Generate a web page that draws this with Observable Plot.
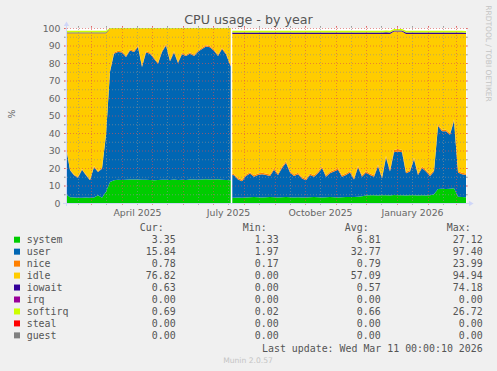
<!DOCTYPE html>
<html><head><meta charset="utf-8">
<script src="https://cdn.jsdelivr.net/npm/d3@7"></script>
<script src="https://cdn.jsdelivr.net/npm/@observablehq/plot@0.6"></script>
<style>
html,body{margin:0;padding:0;background:#F0F0F0;}
#wrap{position:relative;width:497px;height:371px;background:#F0F0F0;overflow:hidden;}
#wrap svg{position:absolute;left:0;top:0;}
</style></head><body><div id="wrap"></div>
<script>
// ---- data ----
const seriesNames = ["system","user","nice","idle","iowait","irq","softirq","steal","guest"];
const seriesColors = ["#00CC00","#0066B3","#FF8000","#FFCC00","#330099","#990099","#CCFF00","#FF0000","#808080"];
const stackedNames = ["system","user","nice","idle","iowait","softirq"];
const curValues = [3.35, 15.84, 0.78, 76.82, 0.63, 0.00, 0.69, 0.00, 0.00];
const minValues = [1.33, 1.97, 0.17, 0.00, 0.00, 0.00, 0.02, 0.00, 0.00];
const avgValues = [6.81, 32.77, 0.79, 57.09, 0.57, 0.00, 0.66, 0.00, 0.00];
const maxValues = [27.12, 97.40, 23.99, 94.94, 74.18, 0.00, 26.72, 0.00, 0.00];

const startDate = new Date(Date.UTC(2025, 1, 4));
const endDate = new Date(Date.UTC(2026, 2, 11));
// day offsets from startDate; data gap between 164.7 and 166.3
const dayOffsets = [...d3.range(0, 161, 4), 164.7, 166.3, ...d3.range(168, 401, 4)];
const gapDay = 165.5;

const system = [5.0, 3.3, 3.2, 3.0, 3.0, 3.1, 3.0, 3.2, 4.5, 3.0,
 6.5, 12.0, 13.0, 13.3, 13.2, 13.3, 13.4, 13.5, 13.4, 13.3,
 13.3, 13.2, 13.0, 13.2, 13.3, 13.3, 13.2, 13.4, 13.1, 13.3,
 13.2, 13.4, 13.5, 13.3, 13.4, 13.6, 13.5, 13.4, 13.6, 13.3, 13.2,
 13.0, 3.0,
 3.0, 3.1, 3.0, 3.2, 3.3, 3.4, 3.3, 3.2, 3.3, 3.4,
 3.3, 3.2, 3.3, 3.4, 3.3, 3.2, 3.3, 3.1, 3.2, 3.3,
 3.4, 3.3, 3.2, 3.3, 3.4, 3.3, 3.2, 3.3, 3.4, 3.5,
 3.5, 3.6, 3.8, 4.3, 4.4, 4.5, 4.3, 4.4, 4.5, 4.3,
 4.6, 4.5, 4.4, 4.3, 4.4, 4.5, 4.3, 4.4, 4.3, 4.4,
 5.0, 8.0, 8.2, 8.0, 8.1, 8.4, 3.6, 3.4, 3.35];
const user = [27.0, 15.4, 12.6, 11.5, 16.0, 12.7, 10.0, 17.4, 13.2, 16.6,
 32.5, 63.0, 72.3, 73.0, 72.8, 70.1, 73.8, 72.8, 75.7, 64.4,
 72.7, 72.1, 69.5, 66.4, 73.0, 76.7, 67.8, 72.6, 66.9, 71.7,
 70.8, 72.1, 70.5, 73.2, 74.6, 75.9, 75.5, 73.6, 70.4, 74.7, 71.8,
 65.0, 13.0,
 12.8, 10.4, 9.5, 12.3, 13.5, 11.6, 12.7, 13.3, 12.7, 12.1,
 15.7, 12.8, 16.7, 19.6, 14.2, 12.3, 13.2, 10.9, 9.8, 12.7,
 11.6, 13.7, 16.8, 11.7, 13.6, 14.7, 15.8, 11.7, 12.6, 14.0,
 10.0, 16.9, 11.2, 13.2, 11.6, 10.5, 16.7, 9.6, 21.5, 13.7,
 24.4, 25.0, 24.6, 12.7, 13.6, 20.5, 11.7, 15.6, 13.7, 11.1,
 13.0, 36.0, 32.8, 33.0, 30.9, 38.6, 13.9, 13.1, 12.65];
const nice = [0.5, 0.5, 0.5, 0.5, 0.5, 0.5, 0.5, 0.5, 0.5, 0.5,
 0.5, 0.7, 0.7, 0.7, 0.7, 0.7, 0.7, 0.7, 0.7, 0.7,
 0.7, 0.7, 0.7, 0.7, 0.7, 0.7, 0.7, 0.7, 0.7, 0.7,
 0.7, 0.7, 0.7, 0.7, 0.7, 0.7, 0.7, 0.7, 0.7, 0.7, 0.7,
 0.7, 0.8,
 0.8, 0.8, 0.8, 0.8, 0.8, 0.8, 0.8, 0.8, 0.8, 0.8,
 0.8, 0.8, 0.8, 0.8, 0.8, 0.8, 0.8, 0.8, 0.8, 0.8,
 0.8, 0.8, 0.8, 0.8, 0.8, 0.8, 0.8, 0.8, 0.8, 0.8,
 0.8, 0.8, 0.8, 0.8, 0.8, 0.8, 0.8, 0.8, 0.8, 0.8,
 1.3, 1.3, 1.3, 0.8, 0.8, 0.8, 0.8, 0.8, 0.8, 0.8,
 0.8, 0.8, 0.8, 0.8, 0.8, 0.8, 0.8, 0.8, 0.8];
const idle = [64.5, 77.8, 80.7, 82.0, 77.5, 80.7, 83.5, 75.9, 78.8, 76.9,
 57.5, 23.7, 13.4, 12.4, 12.7, 15.3, 11.5, 12.4, 9.6, 21.0,
 12.7, 13.4, 16.2, 19.1, 12.4, 8.7, 17.7, 12.7, 18.7, 13.7,
 14.7, 13.2, 14.7, 12.2, 10.7, 9.2, 9.7, 11.7, 14.7, 10.7, 13.7,
 20.7, 79.8,
 80.0, 82.3, 83.3, 80.3, 79.0, 80.8, 79.8, 79.3, 79.8, 80.3,
 76.8, 79.8, 75.8, 72.8, 78.3, 80.3, 79.3, 81.8, 82.8, 79.8,
 80.8, 78.8, 75.8, 80.8, 78.8, 77.8, 76.8, 80.8, 79.8, 78.3,
 82.3, 75.3, 80.8, 78.3, 79.8, 80.8, 74.8, 81.8, 69.8, 77.8,
 67.7, 67.2, 67.7, 78.8, 77.8, 70.8, 79.8, 75.8, 77.8, 80.3,
 77.8, 51.8, 54.8, 54.8, 56.8, 48.8, 78.3, 79.3, 79.8];
const iowait = [0.5, 0.5, 0.5, 0.5, 0.5, 0.5, 0.5, 0.5, 0.5, 0.5,
 0.5, 0.2, 0.2, 0.2, 0.2, 0.2, 0.2, 0.2, 0.2, 0.2,
 0.2, 0.2, 0.2, 0.2, 0.2, 0.2, 0.2, 0.2, 0.2, 0.2,
 0.2, 0.2, 0.2, 0.2, 0.2, 0.2, 0.2, 0.2, 0.2, 0.2, 0.2,
 0.2, 0.8,
 0.8, 0.8, 0.8, 0.8, 0.8, 0.8, 0.8, 0.8, 0.8, 0.8,
 0.8, 0.8, 0.8, 0.8, 0.8, 0.8, 0.8, 0.8, 0.8, 0.8,
 0.8, 0.8, 0.8, 0.8, 0.8, 0.8, 0.8, 0.8, 0.8, 0.8,
 0.8, 0.8, 0.8, 0.8, 0.8, 0.8, 0.8, 0.9, 1.0, 0.9,
 0.6, 0.6, 0.6, 0.8, 0.8, 0.8, 0.9, 0.9, 0.8, 0.8,
 0.8, 0.8, 0.8, 0.8, 0.8, 0.8, 0.8, 0.8, 0.7];
const softirq = [1.0, 1.0, 1.0, 1.0, 1.0, 1.0, 1.0, 1.0, 1.0, 1.0,
 1.0, 0.4, 0.4, 0.4, 0.4, 0.4, 0.4, 0.4, 0.4, 0.4,
 0.4, 0.4, 0.4, 0.4, 0.4, 0.4, 0.4, 0.4, 0.4, 0.4,
 0.4, 0.4, 0.4, 0.4, 0.4, 0.4, 0.4, 0.4, 0.4, 0.4, 0.4,
 0.4, 1.0,
 1.0, 1.0, 1.0, 1.0, 1.0, 1.0, 1.0, 1.0, 1.0, 1.0,
 1.0, 1.0, 1.0, 1.0, 1.0, 1.0, 1.0, 1.0, 1.0, 1.0,
 1.0, 1.0, 1.0, 1.0, 1.0, 1.0, 1.0, 1.0, 1.0, 1.0,
 1.0, 1.0, 1.0, 1.0, 1.0, 1.0, 1.0, 1.0, 1.0, 1.0,
 0.9, 0.9, 0.9, 1.0, 1.0, 1.0, 1.0, 1.0, 1.0, 1.0,
 1.0, 1.0, 1.0, 1.0, 1.0, 1.0, 1.0, 1.0, 1.0];

const yMajorTicks = [0, 10, 20, 30, 40, 50, 60, 70, 80, 90, 100];
const yMinorTicks = [5, 15, 25, 35, 45, 55, 65, 75, 85, 95];
const xLabelMonths = [[2025, 3], [2025, 6], [2025, 9], [2026, 0]];
const xLabelTexts = ["April 2025", "July 2025", "October 2025", "January 2026"];

const titleText = "CPU usage - by year";
const yAxisLabel = "%";
const sideText = "RRDTOOL / TOBI OETIKER";
const lastUpdate = "Last update: Wed Mar 11 00:00:10 2026";
const footer = "Munin 2.0.57";

// ---- build table ----
const valuesBySeries = {system, user, nice, idle, iowait, softirq};
const rows = [];
for (const name of stackedNames) {
  valuesBySeries[name].forEach((v, j) => {
    rows.push({date: new Date(+startDate + dayOffsets[j] * 864e5), series: name, value: v, seg: dayOffsets[j] < gapDay ? 0 : 1});
  });
}
const monthStarts = d3.utcMonth.range(startDate, endDate);
const midMonths = d3.utcMonth.range(d3.utcMonth.floor(startDate), endDate).map(d => d3.utcDay.offset(d, 15)).filter(d => d >= startDate && d <= endDate);
const labelDates = xLabelMonths.map(([y, m]) => new Date(Date.UTC(y, m, 16)));
const labelMap = new Map(labelDates.map((d, i) => [+d, xLabelTexts[i]]));

const MINOR = "rgba(143,143,143,0.6)";
const MAJOR = "rgba(222,79,79,0.6)";
const DASH = "1,2";
const AXIS = "#CFD6F8";
const plotH = 230, mTop = 28, mBottom = 27;
const innerH = plotH - mTop - mBottom;
const innerW = 497 - 66 - 31;

const stackOpts = () => Plot.stackY({x: "date", y: "value", z: "series", fill: "series", order: stackedNames});

const chart = Plot.plot({
  width: 497, height: plotH,
  marginLeft: 66, marginRight: 31, marginTop: mTop, marginBottom: mBottom,
  style: {background: "transparent", fontFamily: "DejaVu Sans", fontSize: "9.33px", color: "#666", overflow: "visible"},
  x: {type: "utc", domain: [startDate, endDate], label: null},
  y: {domain: [0, 100], label: null},
  color: {domain: seriesNames, range: seriesColors},
  marks: [
    Plot.frame({fill: "white", stroke: "none"}),
    Plot.areaY(rows.filter(d => d.seg === 0), stackOpts()),
    Plot.areaY(rows.filter(d => d.seg === 1), stackOpts()),
    // minor grid
    Plot.ruleY(yMinorTicks, {stroke: MINOR, strokeDasharray: DASH, insetLeft: -2, insetRight: -2}),
    Plot.ruleX(midMonths, {stroke: MINOR, strokeDasharray: DASH, insetTop: -2, insetBottom: -2}),
    Plot.ruleY(yMinorTicks, {stroke: MINOR, insetLeft: -2, insetRight: innerW}),
    Plot.ruleY(yMinorTicks, {stroke: MINOR, insetLeft: innerW, insetRight: -2}),
    Plot.ruleX(midMonths, {stroke: MINOR, insetTop: -2, insetBottom: innerH}),
    Plot.ruleX(midMonths, {stroke: MINOR, insetTop: innerH, insetBottom: -2}),
    // major grid
    Plot.ruleY(yMajorTicks.filter(d => d > 0), {stroke: MAJOR, strokeDasharray: DASH, insetLeft: -2, insetRight: -2}),
    Plot.ruleX(monthStarts, {stroke: MAJOR, strokeDasharray: DASH, insetTop: -2, insetBottom: -2}),
    Plot.ruleY(yMajorTicks, {stroke: MAJOR, insetLeft: -2, insetRight: innerW}),
    Plot.ruleY(yMajorTicks, {stroke: MAJOR, insetLeft: innerW, insetRight: -2}),
    Plot.ruleX(monthStarts, {stroke: MAJOR, insetTop: -2, insetBottom: innerH}),
    Plot.ruleX(monthStarts, {stroke: MAJOR, insetTop: innerH, insetBottom: -2}),
    // axes lines + arrows
    Plot.ruleY([0], {stroke: AXIS, insetLeft: -3, insetRight: -3}),
    Plot.ruleX([startDate], {stroke: AXIS, insetTop: -4, insetBottom: -3}),
    Plot.dot([0], {x: () => endDate, y: 0, symbol: "triangle", rotate: 90, r: 2, fill: AXIS, stroke: "none", dx: 4}),
    Plot.dot([0], {x: () => startDate, y: 100, symbol: "triangle", r: 2, fill: AXIS, stroke: "none", dy: -4}),
    // labels
    Plot.axisY({ticks: yMajorTicks, tickSize: 0, tickPadding: 6, label: null}),
    Plot.axisX({ticks: labelDates, tickSize: 0, tickPadding: 6, label: null, tickFormat: d => labelMap.get(+d)})
  ]
});
document.getElementById("wrap").appendChild(chart);

// ---- overlay: title, side texts, legend ----
const ov = d3.select("#wrap").append("svg").attr("width", 497).attr("height", 371)
  .style("pointer-events", "none");
ov.append("text").attr("x", 248.5).attr("y", 24).attr("text-anchor", "middle")
  .attr("font-family", "DejaVu Sans").attr("font-size", 12.7).attr("fill", "#555").text(titleText);
ov.append("text").attr("transform", "translate(14.5,114) rotate(-90)").attr("text-anchor", "middle")
  .attr("font-family", "DejaVu Sans").attr("font-size", 9.33).attr("fill", "#666").text(yAxisLabel);
ov.append("text").attr("transform", "translate(486,53.5) rotate(90)").attr("text-anchor", "middle")
  .attr("font-family", "DejaVu Sans").attr("font-size", 7.5).attr("fill", "#c4c4c4").text(sideText);

const mono = "DejaVu Sans Mono";
const fs = 9.92;
const colRight = [175.7, 278.7, 380.7, 482.7];
const headers = ["Cur:", "Min:", "Avg:", "Max:"];
headers.forEach((h, k) => {
  ov.append("text").attr("x", colRight[k] - 12).attr("y", 231.3).attr("text-anchor", "end")
    .attr("font-family", mono).attr("font-size", fs).attr("fill", "#555").text(h);
});
const stats = [curValues, minValues, avgValues, maxValues];
seriesNames.forEach((name, r) => {
  const by = 243.3 + r * 11.96;
  ov.append("rect").attr("x", 14).attr("y", by - 6.6).attr("width", 6).attr("height", 6).attr("fill", seriesColors[r]);
  ov.append("text").attr("x", 26.7).attr("y", by).attr("font-family", mono).attr("font-size", fs)
    .attr("fill", "#555").text(name);
  stats.forEach((arr, k) => {
    ov.append("text").attr("x", colRight[k]).attr("y", by).attr("text-anchor", "end")
      .attr("font-family", mono).attr("font-size", fs).attr("fill", "#555").text(arr[r].toFixed(2));
  });
});
ov.append("text").attr("x", 482.7).attr("y", 351.7).attr("text-anchor", "end")
  .attr("font-family", mono).attr("font-size", fs).attr("fill", "#555").text(lastUpdate);
ov.append("text").attr("x", 248).attr("y", 362.7).attr("text-anchor", "middle")
  .attr("font-family", "DejaVu Sans").attr("font-size", 7.6).attr("fill", "#c4c4c4").text(footer);
</script></body></html>
